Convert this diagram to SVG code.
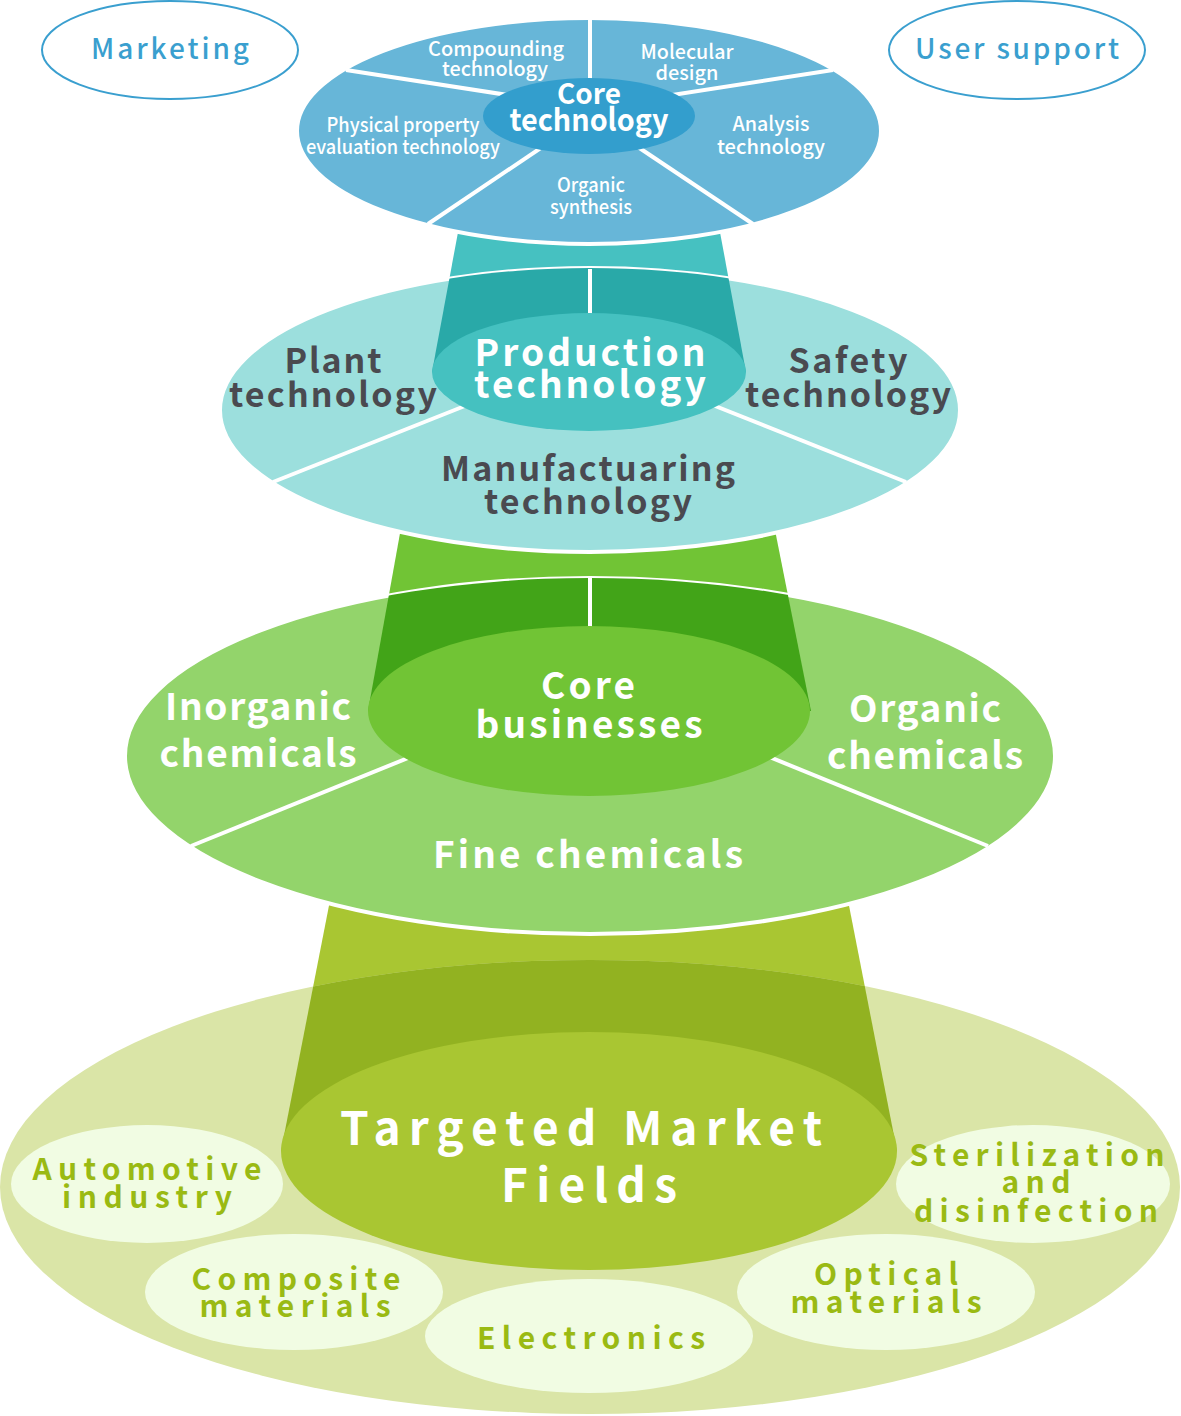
<svg xmlns="http://www.w3.org/2000/svg" width="1181" height="1416" viewBox="0 0 1181 1416">
<style>
text{font-family:"Noto Sans CJK JP","Noto Sans",sans-serif;text-anchor:middle}
.w{fill:#fff;font-weight:700}
.ws{fill:#fff;font-weight:500;font-size:20px}
.g{fill:#4a4a50;font-weight:700;font-size:34px}
.o{fill:#9aba13;font-weight:700;font-size:30px}
.b{fill:#3a9fcf;font-weight:500;font-size:28px}
.div{stroke:#fff;stroke-width:4;fill:none}
.edge{stroke:#fff;stroke-width:4}
</style>
<defs>
<clipPath id="cOl"><ellipse cx="590" cy="1187" rx="590" ry="227"/></clipPath>
<clipPath id="cGr"><ellipse cx="590" cy="756" rx="465" ry="178"/></clipPath>
<clipPath id="cTe"><ellipse cx="590" cy="410" rx="370" ry="142"/></clipPath>
</defs>

<g id="market-fields">
<polygon points="334,880 844,880 897,1151 281,1151" fill="#a9c632"/>
<ellipse cx="590" cy="1187" rx="590" ry="227" fill="#dae5a7"/>
<polygon points="334,880 844,880 897,1151 281,1151" fill="#92b221" clip-path="url(#cOl)"/>
<ellipse cx="589" cy="1151" rx="308" ry="119" fill="#a9c632"/>
<text class="w" font-size="46" x="581" y="1145" textLength="482" lengthAdjust="spacing">Targeted Market</text>
<text class="w" font-size="46" x="589" y="1202" textLength="176" lengthAdjust="spacing">Fields</text>
</g>
<g id="automotive">
<ellipse cx="147" cy="1184" rx="136" ry="59" fill="#f1fce3"/>
<text class="o" x="147" y="1180" textLength="229" lengthAdjust="spacing">Automotive</text>
<text class="o" x="147" y="1208" textLength="170" lengthAdjust="spacing">industry</text>
</g>
<g id="composite">
<ellipse cx="294" cy="1292" rx="149" ry="58" fill="#f1fce3"/>
<text class="o" x="296" y="1290" textLength="209" lengthAdjust="spacing">Composite</text>
<text class="o" x="295" y="1317" textLength="191" lengthAdjust="spacing">materials</text>
</g>
<g id="electronics">
<ellipse cx="589" cy="1336" rx="164" ry="57" fill="#f1fce3"/>
<text class="o" x="591" y="1349" textLength="228" lengthAdjust="spacing">Electronics</text>
</g>
<g id="optical">
<ellipse cx="886" cy="1292" rx="149" ry="58" fill="#f1fce3"/>
<text class="o" x="886" y="1285" textLength="144" lengthAdjust="spacing">Optical</text>
<text class="o" x="886" y="1313" textLength="191" lengthAdjust="spacing">materials</text>
</g>
<g id="sterilization">
<ellipse cx="1033" cy="1184" rx="137" ry="59" fill="#f1fce3"/>
<text class="o" x="1037" y="1166" textLength="255" lengthAdjust="spacing">Sterilization</text>
<text class="o" x="1036" y="1193" textLength="69" lengthAdjust="spacing">and</text>
<text class="o" x="1036" y="1222" textLength="244" lengthAdjust="spacing">disinfection</text>
</g>

<g id="core-businesses">
<polygon points="406,500 769,500 811,711 368,711" fill="#71c435"/>
<ellipse class="edge" cx="590" cy="756" rx="465" ry="178" fill="#93d46b"/>
<polygon points="406,500 769,500 811,711 368,711" fill="#42a418" clip-path="url(#cGr)"/>
<line class="div" x1="590" y1="578" x2="590" y2="640"/>
<line class="div" x1="191" y1="846" x2="440" y2="745"/>
<line class="div" x1="988" y1="846" x2="740" y2="745"/>
<ellipse cx="589" cy="711" rx="221" ry="85" fill="#71c435"/>
<text class="w" font-size="37" x="588" y="699" textLength="94" lengthAdjust="spacing">Core</text>
<text class="w" font-size="37" x="589" y="738" textLength="227" lengthAdjust="spacing">businesses</text>
<text class="w" font-size="37" x="258" y="720" textLength="186" lengthAdjust="spacing">Inorganic</text>
<text class="w" font-size="37" x="258" y="767" textLength="197" lengthAdjust="spacing">chemicals</text>
<text class="w" font-size="37" x="925" y="722" textLength="152" lengthAdjust="spacing">Organic</text>
<text class="w" font-size="37" x="925" y="769" textLength="196" lengthAdjust="spacing">chemicals</text>
<text class="w" font-size="37" x="588" y="868" textLength="310" lengthAdjust="spacing">Fine chemicals</text>
</g>

<g id="production-technology">
<polygon points="464,200 714,200 746,372 432,372" fill="#46c1c1"/>
<ellipse class="edge" cx="590" cy="410" rx="370" ry="142" fill="#9cdfdd"/>
<polygon points="464,200 714,200 746,372 432,372" fill="#29a9a8" clip-path="url(#cTe)"/>
<line class="div" x1="590" y1="269" x2="590" y2="330"/>
<line class="div" x1="273" y1="482" x2="490" y2="396"/>
<line class="div" x1="906" y1="482" x2="690" y2="396"/>
<ellipse cx="589" cy="372" rx="157" ry="59" fill="#45c1c0"/>
<text class="w" font-size="37" x="590" y="366" textLength="231" lengthAdjust="spacing">Production</text>
<text class="w" font-size="37" x="590" y="398" textLength="232" lengthAdjust="spacing">technology</text>
<text class="g" x="333" y="373" textLength="97" lengthAdjust="spacing">Plant</text>
<text class="g" x="333" y="407" textLength="208" lengthAdjust="spacing">technology</text>
<text class="g" x="848" y="373" textLength="119" lengthAdjust="spacing">Safety</text>
<text class="g" x="848" y="407" textLength="206" lengthAdjust="spacing">technology</text>
<text class="g" x="588" y="481" textLength="294" lengthAdjust="spacing">Manufactuaring</text>
<text class="g" x="588" y="514" textLength="208" lengthAdjust="spacing">technology</text>
</g>

<g id="core-technology">
<ellipse class="edge" cx="589" cy="131" rx="292" ry="113" fill="#67b6d8"/>
<line class="div" x1="590" y1="19" x2="590" y2="90"/>
<line class="div" x1="346" y1="70" x2="540" y2="100"/>
<line class="div" x1="833" y1="70" x2="640" y2="100"/>
<line class="div" x1="428" y1="224" x2="560" y2="135"/>
<line class="div" x1="753" y1="224" x2="620" y2="135"/>
<ellipse cx="589" cy="116" rx="106" ry="38" fill="#339ecd"/>
<text class="w" font-size="28" x="589" y="104" textLength="64" lengthAdjust="spacingAndGlyphs">Core</text>
<text class="w" font-size="31" x="589" y="131" textLength="159" lengthAdjust="spacingAndGlyphs">technology</text>
<text class="ws" x="496" y="56" textLength="136" lengthAdjust="spacingAndGlyphs">Compounding</text>
<text class="ws" x="495" y="76" textLength="106" lengthAdjust="spacingAndGlyphs">technology</text>
<text class="ws" x="687" y="59" textLength="93" lengthAdjust="spacingAndGlyphs">Molecular</text>
<text class="ws" x="687" y="80" textLength="63" lengthAdjust="spacingAndGlyphs">design</text>
<text class="ws" x="403" y="132" textLength="153" lengthAdjust="spacingAndGlyphs">Physical property</text>
<text class="ws" x="403" y="154" textLength="194" lengthAdjust="spacingAndGlyphs">evaluation technology</text>
<text class="ws" x="771" y="131" textLength="77" lengthAdjust="spacingAndGlyphs">Analysis</text>
<text class="ws" x="771" y="154" textLength="108" lengthAdjust="spacingAndGlyphs">technology</text>
<text class="ws" x="591" y="192" textLength="68" lengthAdjust="spacingAndGlyphs">Organic</text>
<text class="ws" x="591" y="214" textLength="82" lengthAdjust="spacingAndGlyphs">synthesis</text>
</g>

<g id="marketing">
<ellipse cx="170" cy="50" rx="128" ry="49" fill="#fff" stroke="#3a9fcf" stroke-width="2"/>
<text class="b" x="170" y="59" textLength="158" lengthAdjust="spacing">Marketing</text>
</g>
<g id="user-support">
<ellipse cx="1017" cy="50" rx="128" ry="49" fill="#fff" stroke="#3a9fcf" stroke-width="2"/>
<text class="b" x="1017" y="59" textLength="204" lengthAdjust="spacing">User support</text>
</g>
<g id="connectors"></g>
</svg>
